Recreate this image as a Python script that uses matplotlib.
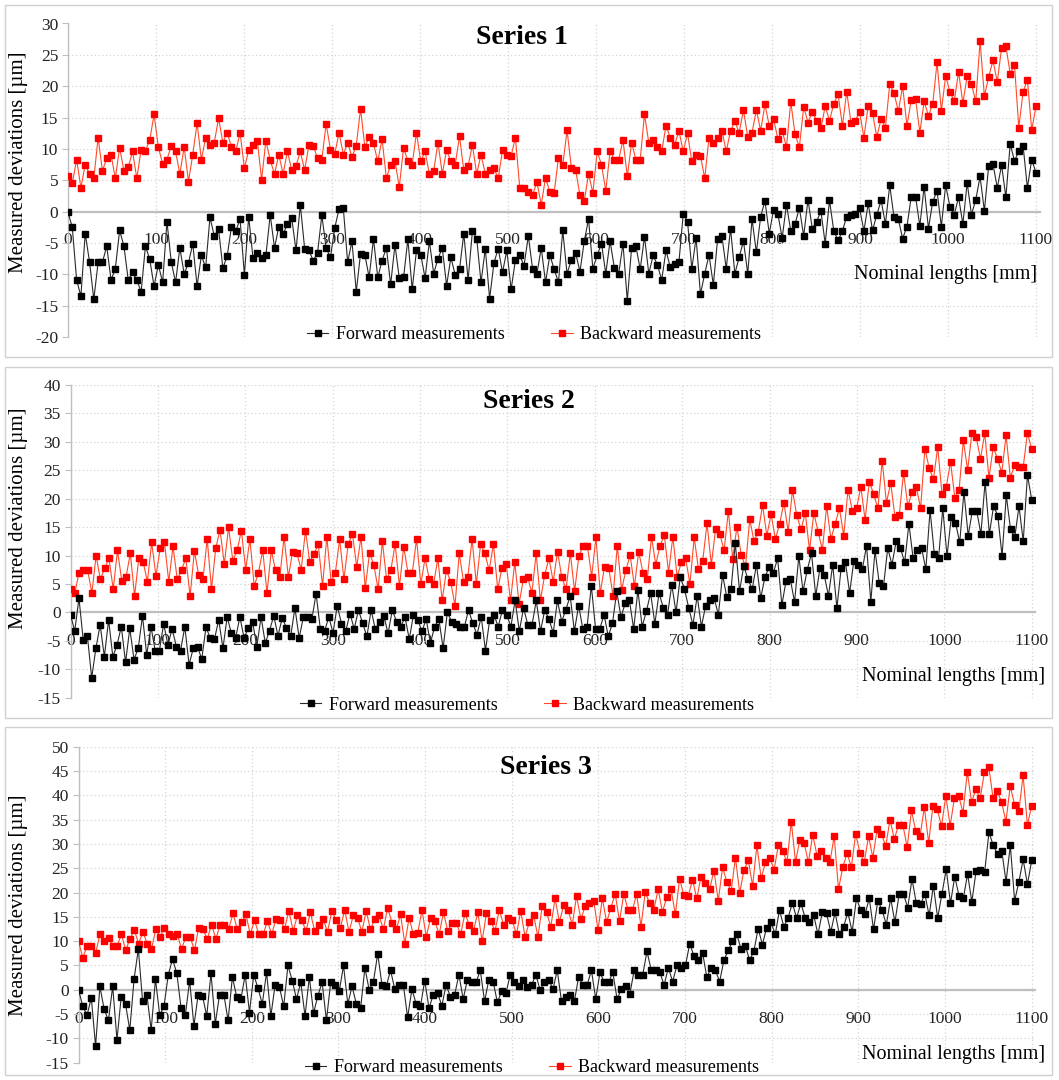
import numpy as np
import matplotlib
matplotlib.use("Agg")
import matplotlib.pyplot as plt
from matplotlib.patches import Rectangle
from matplotlib.lines import Line2D

plt.rcParams['font.family'] = ['Liberation Serif', 'DejaVu Serif']
plt.rcParams['axes.unicode_minus'] = False

# ---------------- data (deviations in micrometres) -------------
s1_forward = [
    -0.1, -2.5, -10.9, -13.5, -3.5, -8.0, -14.0, -8.1, -8.1, -5.5,
    -10.9, -9.1, -3.0, -5.5, -10.9, -9.7, -10.9, -12.8, -5.5, -7.6,
    -11.9, -8.5, -11.3, -1.6, -8.0, -11.3, -5.8, -9.9, -8.2, -5.1,
    -11.9, -7.0, -8.9, -0.9, -3.9, -2.8, -9.0, -7.1, -2.4, -3.1,
    -1.2, -10.1, -0.8, -7.4, -6.6, -7.4, -7.0, -0.5, -5.8, -2.4,
    -3.6, -2.0, -1.0, -6.2,
    1.1, -5.9, -6.2, -7.8, -6.6, -0.6, -5.8, -7.3, -2.6, 0.4,
    0.5, -8.1, -4.7, -12.8, -6.7, -6.9, -10.5, -4.3, -10.5, -7.8,
    -5.8, -11.6, -5.3, -10.6, -10.5, -4.4, -12.4, -6.2, -6.9, -10.6,
    -4.7, -9.9, -7.5, -5.8, -11.8, -7.3, -10.1, -9.2, -3.5, -10.9,
    -3.1, -4.3, -11.3, -5.9, -13.9, -8.2, -5.9, -9.7, -6.2, -12.4,
    -7.7, -7.0, -8.6, -3.9, -9.2, -9.9, -5.8, -11.3, -6.9,
    -9.2, -11.3, -3.0, -9.9, -7.7, -6.6, -9.6, -4.7, -1.2, -9.1,
    -7.0, -5.1, -9.9, -4.7, -9.0, -9.9, -5.1, -14.2, -5.8, -5.5,
    -9.2, -4.0, -9.9, -7.0, -8.5, -10.9, -6.2, -8.9, -8.3, -8.1,
    -0.4, -1.6, -9.1, -4.2, -13.2, -9.9, -6.9, -11.7, -4.3, -3.9,
    -9.1, -2.7, -9.9, -7.3, -4.7, -9.9, -1.2, -6.5, -0.8, 1.7,
    -3.5, 0.3, -0.4, -4.2, 1.1, -3.1, -2.0, 0.6, -3.9, 1.9,
    -2.7, -1.6, 0.1, -5.1, 1.8, -3.1, -4.6, -3.1, -0.8, -0.5,
    -0.4, 0.5, -3.1, 1.3, -3.0, -0.5, 1.8, -2.0, 4.2, -0.9,
    -1.2, -4.3, -2.4, 2.4, 2.4, -2.3, 4.0, -2.7, 1.6, 3.3,
    -2.4, 4.2, 0.8, -0.5, 2.3, -2.0, 4.6, -0.5, 1.9, 5.6,
    0.1, 7.3, 7.6, 3.8, 7.4, 2.3, 10.8, 8.1, 9.6, 10.5,
    3.8, 8.3, 6.2,
]
s1_backward = [
    5.6, 4.5, 8.3, 3.8, 7.5, 6.0, 5.3, 11.8, 6.5, 8.5,
    9.1, 5.3, 10.2, 6.5, 7.1, 9.6, 5.3, 9.9, 9.7, 11.4,
    15.5, 10.3, 7.6, 8.3, 10.5, 9.6, 6.0, 10.3, 4.8, 9.1,
    14.1, 8.3, 11.8, 10.6, 11.0, 14.9, 11.0, 12.6, 10.3, 9.6,
    12.6, 6.9, 9.8, 10.6, 11.3, 5.1, 11.3, 8.2, 6.0, 9.1,
    6.0, 9.6, 6.6, 7.3, 9.6, 6.6, 10.6,
    10.5, 8.5, 8.3, 14.0, 9.9, 9.2, 12.6, 9.1, 11.0, 8.7,
    10.5, 16.4, 10.3, 11.9, 10.9, 8.0, 11.6, 5.3, 7.5, 8.1,
    3.9, 10.2, 8.0, 7.5, 12.6, 8.0, 9.6, 6.0, 6.5, 11.0,
    6.0, 9.8, 8.0, 7.5, 12.0, 6.6, 7.3, 10.6, 6.0, 9.1,
    6.0, 6.6, 6.9, 5.3, 9.8, 9.1, 8.9, 11.8, 3.8, 3.7,
    3.1, 2.7, 4.7, 1.1, 5.4, 3.1, 3.0, 8.6, 7.4, 13.0,
    7.0, 6.6, 2.6, 1.7, 6.0, 3.0, 9.6, 7.5, 3.3, 9.6,
    8.3, 8.3, 11.4, 5.6, 11.0, 8.3, 8.3, 15.5, 11.0, 11.4,
    10.3, 9.6, 13.7, 11.8, 10.6, 12.9, 9.6, 12.5, 8.0, 9.0,
    8.9, 5.3, 11.8, 11.0, 11.8, 12.9, 9.6, 12.9, 14.4, 12.6,
    16.2, 11.9, 12.6, 16.2, 12.9, 17.1, 13.7, 14.8, 11.6, 12.9,
    10.3, 17.5, 12.3, 10.3, 16.7, 14.2, 15.9,
    14.5, 13.3, 16.8, 14.5, 17.2, 18.7, 13.7, 19.1, 14.2, 14.5,
    15.9, 11.8, 16.9, 15.7, 11.9, 14.8, 13.4, 20.3, 18.9, 16.0,
    20.0, 13.7, 17.8, 18.0, 12.6, 17.6, 15.3, 17.2, 23.8, 16.1,
    21.6, 19.1, 17.6, 22.3, 17.3, 21.6, 20.3, 17.6, 27.2, 18.4,
    21.5, 24.1, 20.7, 26.1, 26.4, 22.0, 23.4, 13.4, 19.1, 21.0,
    13.0, 16.8,
]
s2_forward = [
    -0.4, -3.3, 2.5, -4.8, -4.2, -11.5, -6.3, -2.2, -7.8, -1.3,
    -7.8, -5.7, -2.5, -8.8, -2.8, -8.3, -6.3, -0.6, -7.5, -2.5,
    -6.7, -6.7, -2.0, -5.7, -2.9, -6.0, -6.7, -2.5, -9.2, -6.3,
    -6.1, -8.2, -2.6, -4.5, -4.7, -1.3, -6.3, -0.8, -3.7, -4.5,
    -0.8, -4.5, -2.7, -1.7, -6.0, -0.8, -5.4, -3.2, -0.6, -4.1,
    -1.0, -2.7, -4.2, 0.8, -4.5, -0.8, -0.8, -1.2, 3.3,
    -2.9, -3.3, -0.8, -3.6, 1.2, -2.0, -3.3, -0.2, -2.9, 0.4,
    -1.9, -4.2, 0.4, -3.0, -1.6, -0.6, -3.7, 0.4, -1.6, -2.5,
    -0.8, -4.7, -0.4, -1.3, -3.3, -1.2, -5.4, -2.5, -1.2, -6.3,
    0.0, -1.6, -2.0, -2.6, -2.6, 0.4, -1.9, -3.9, -0.8, -6.7,
    -1.3, -0.4, -2.5, 0.4, -0.4, -2.5, 2.1, -3.3, 0.8, -2.2,
    -2.2, 2.1, -3.3, 0.4, -1.2, -3.6,
    2.1, -1.6, 0.5, 2.9, -3.3, 1.2, -2.9, -2.5, 4.7, -2.9,
    -2.9, -0.4, -4.2, -1.9, 3.7, -0.8, 1.6, 2.1, -2.9, 3.9,
    -2.5, 0.2, 3.4, -2.0, 3.4, 0.8, -0.4, 4.9, 0.0, 6.2,
    4.1, 0.8, -2.2, 2.9, -2.5, 1.2, 2.2, 2.5, -0.4, 6.6,
    2.7, 4.1, 12.2, 3.7, 8.2, 5.8, 4.1, 8.4, 2.5, 6.2,
    8.0, 7.0, 9.5, 1.3, 5.6, 5.8, 1.8, 9.9, 3.7,
    7.5, 10.4, 2.9, 7.8, 6.6, 2.9, 8.4, 0.8, 7.8, 8.9,
    3.4, 9.1, 8.4, 7.6, 11.7, 1.9, 10.9, 5.1, 4.6, 11.3,
    8.4, 12.5, 11.3, 8.8, 15.6, 9.5, 10.9, 11.3, 7.6, 18.0,
    10.3, 9.5, 18.3, 9.9, 16.7, 15.8, 12.3, 21.2, 13.5, 17.9,
    17.9, 13.8, 23.0, 13.8, 18.7, 17.0, 9.9, 20.6, 14.6, 13.2,
    18.7, 12.5, 24.2, 19.8,
]
s2_backward = [
    4.1, 3.4, 7.0, 7.4, 7.5, 3.4, 10.0, 5.8, 7.8, 9.5,
    4.1, 10.9, 5.6, 6.2, 10.4, 2.9, 9.6, 8.9, 5.4, 12.3,
    6.4, 11.3, 12.3, 5.4, 11.6, 5.8, 7.5, 9.5, 2.9, 10.8,
    6.6, 5.8, 12.9, 4.1, 11.3, 14.5, 8.5, 15.0, 9.1, 10.9,
    14.4, 7.5, 12.9, 4.6, 7.0, 10.9, 3.4, 10.9, 7.4, 6.2,
    13.3, 6.2, 10.7, 10.4, 7.5, 14.4, 8.9, 10.3,
    12.0, 4.6, 13.3, 5.4, 7.0, 12.9, 5.8, 12.0, 13.8, 8.0,
    13.3, 4.3, 10.4, 8.4, 4.1, 12.5, 5.8, 7.5, 12.0, 4.6,
    11.5, 7.0, 6.9, 12.9, 5.0, 9.5, 5.8, 5.0, 9.5, 2.1,
    7.4, 5.4, 1.2, 10.4, 5.4, 6.2, 12.9, 5.0, 12.0, 10.4,
    7.4, 12.0, 4.1, 7.8, 8.5, 2.1, 8.8, 1.5, 5.8, 6.2,
    3.4, 10.4, 2.1, 6.6, 9.5, 5.4,
    10.7, 6.2, 4.1, 10.4, 3.7, 9.9, 11.7, 11.7, 6.3, 13.2,
    3.4, 8.0, 7.8, 2.9, 11.7, 4.0, 7.4, 10.1, 4.6, 10.7,
    7.0, 5.8, 13.3, 8.4, 11.7, 13.6, 7.0, 13.3, 6.3, 8.8,
    9.5, 5.0, 13.2, 7.6, 9.1, 15.7, 8.4, 14.6, 13.8, 10.9,
    17.9, 9.4, 15.1, 10.1, 8.1, 16.4, 12.5, 14.2, 18.9, 13.5,
    17.3, 12.9, 15.6, 19.3, 14.2, 21.5, 17.1,
    14.6, 17.5, 10.9, 17.5, 14.2, 11.0, 18.7, 12.9, 15.6, 18.3,
    13.5, 21.6, 17.9, 18.3, 22.1, 16.3, 23.0, 20.8, 18.3, 26.7,
    19.3, 22.8, 16.7, 17.1, 24.6, 18.7, 21.2, 22.0, 18.3, 28.8,
    25.4, 23.4, 29.1, 20.8, 22.1, 26.5, 20.2, 21.5, 30.3, 25.0,
    31.6, 30.9, 27.0, 31.5, 23.7, 29.1, 27.0, 24.6, 31.2, 23.7,
    25.9, 25.5, 25.5, 31.6, 28.7,
]
s3_forward = [
    0.0, -3.4, -5.2, -1.7, -11.6, 0.7, -4.0, -6.3, 0.7, -10.3,
    -1.4, -2.9, -8.3, 2.2, 8.4, -2.4, -1.0, -8.3, 2.2, -5.2,
    -3.4, 3.1, 6.3, 3.4, -3.8, -5.2, 1.9, -7.4, -1.0, -1.2,
    -5.4, 3.4, -7.0, -1.0, -1.0, -6.3, 2.6, -1.4, -1.9, 3.1,
    -4.7, 3.1, 0.3, -2.9, 3.6, -5.4, 1.0, 0.6, -3.4, 5.0,
    1.9, -1.9, 1.5, -5.4, 2.6, -4.8,
    -1.2, 1.5, -6.3, 1.5, 1.0, -0.3, 5.0, -2.9, 0.7, -2.9,
    -3.8, 4.5, 0.0, 1.7, 7.4, 1.0, 0.7, 4.0, 0.1, 1.0,
    1.0, -5.7, 0.1, -2.9, -3.4, 1.9, -3.8, -1.0, -0.6, -3.3,
    1.0, -1.4, -1.0, 3.1, -1.9, 2.1, 1.5, 1.5, 4.0, -2.4,
    2.1, 1.7, -2.6, -0.3, -0.7, 3.1, 1.7, 0.7, 2.1, 0.6,
    1.0, 3.1, -0.1, 1.7, 2.1, 0.1, 4.0,
    -2.4, -1.4, -1.0, -2.4, 2.6, 1.0, 1.0, 4.0, -1.9, 3.6,
    1.5, 1.5, 3.6, -1.9, 0.1, 0.7, -0.8, 4.0, 3.1, 3.1,
    7.9, 4.0, 4.0, 3.6, 1.0, 4.5, 1.7, 5.0, 4.5, 5.0,
    9.5, 6.9, 6.1, 7.6, 2.6, 4.5, 4.0, 1.7, 6.1, 8.1,
    10.0, 11.4, 8.4, 9.1, 6.1, 7.9, 12.6, 9.3, 12.8, 13.9,
    11.4, 16.4, 13.0, 14.8, 17.8, 14.8, 17.8,
    14.8, 13.9, 15.3, 11.4, 15.9, 15.7, 11.9, 15.9, 11.4, 13.0,
    15.9, 11.9, 18.8, 16.4, 15.5, 18.8, 12.4, 18.3, 16.4, 13.4,
    18.8, 13.9, 19.7, 19.7, 16.9, 22.8, 17.8, 17.6, 19.7, 15.3,
    21.4, 14.8, 19.7, 24.8, 17.8, 23.3, 19.3, 18.8, 23.8, 18.1,
    24.5, 24.7, 24.3, 32.4, 29.7, 27.9, 28.6, 22.2, 29.7, 18.3,
    22.2, 26.8, 21.7, 26.6,
]
s3_backward = [
    10.0, 6.6, 9.0, 9.0, 7.6, 11.4, 10.0, 10.7, 9.0, 9.0,
    11.4, 8.1, 10.5, 12.3, 9.5, 11.9, 9.5, 8.4, 12.4, 10.9,
    12.8, 11.4, 11.0, 11.4, 8.4, 10.9, 10.9, 8.1, 12.8, 12.4,
    10.5, 13.4, 10.5, 13.4, 13.4, 12.6, 15.7, 12.4, 13.9, 15.5,
    11.4, 14.3, 11.4, 11.4, 14.1, 11.4, 14.6, 14.3, 12.6, 16.2,
    12.1, 15.3, 14.3, 12.1, 15.9,
    12.1, 13.4, 14.5, 11.9, 16.2, 14.3, 12.8, 16.4, 11.9, 15.3,
    14.8, 11.9, 16.2, 12.4, 14.5, 15.3, 12.4, 16.9, 13.8, 12.4,
    15.5, 9.5, 14.8, 11.4, 11.7, 16.4, 10.9, 14.8, 14.1, 11.4,
    15.9, 12.1, 13.8, 13.7, 11.4, 15.7, 13.4, 12.1, 15.9, 10.0,
    15.7, 14.1, 12.1, 16.4, 13.4, 14.8, 14.3, 11.4, 16.2, 10.9,
    13.9, 15.3, 10.9, 17.2, 15.9, 13.0,
    18.8, 13.9, 17.4, 16.4, 13.4, 19.3, 14.5, 17.2, 17.8, 18.3,
    12.3, 18.8, 13.9, 16.9, 19.7, 14.1, 19.7, 16.4, 16.4, 19.7,
    13.0, 20.1, 17.8, 16.4, 20.7, 16.0, 19.0, 20.7, 15.5, 22.8,
    19.4, 19.3, 22.6, 18.8, 23.3, 21.9, 20.7, 24.5, 18.3, 25.2,
    22.2, 20.3, 27.2, 19.9, 24.7, 26.6, 21.4, 29.7, 22.9, 26.2,
    27.2, 24.7, 29.7, 28.6, 26.2, 34.6, 26.3, 30.9,
    30.2, 26.2, 31.9, 27.6, 28.6, 27.2, 26.2, 31.6, 20.7, 25.2,
    28.1, 25.2, 32.1, 28.1, 26.2, 31.6, 27.2, 33.0, 32.1, 29.5,
    35.0, 31.0, 33.9, 33.9, 29.3, 36.9, 32.6, 31.6, 37.6, 30.2,
    37.9, 37.1, 33.7, 39.9, 33.7, 39.4, 39.9, 36.4, 44.8, 38.6,
    41.2, 39.4, 44.8, 45.9, 39.4, 40.8, 38.6, 34.6, 41.9, 38.1,
    36.7, 44.1, 33.9, 37.9,
]

x_ticks = [0, 100, 200, 300, 400, 500, 600, 700, 800, 900, 1000, 1100]
titles = ["Series 1", "Series 2", "Series 3"]
forward_sets = [s1_forward, s2_forward, s3_forward]
backward_sets = [s1_backward, s2_backward, s3_backward]
y_limits = [(-20, 30), (-15, 40), (-15, 50)]
legend_labels = ["Forward measurements", "Backward measurements"]
x_title = "Nominal lengths [mm]"
y_title = "Measured deviations [\u00b5m]"

# ---------------- layout (pixels of the 1059x1080 canvas) ----------------
W, H = 1059, 1080
fig = plt.figure(figsize=(W / 100, H / 100), dpi=100)


def fx(px):
    return px / W


def fy(py):
    return 1 - py / H


frames = [(5, 5, 1052, 357), (5, 367, 1052, 718), (5, 727, 1052, 1075)]
# x of 0 mm, x of 1100 mm, y of top, y of bottom
boxes = [(68, 1036, 23.5, 337), (70.5, 1031.7, 385, 697.7), (78.5, 1031.7, 746.7, 1062.7)]
title_pos = [(522, 37), (529, 402), (546, 768)]
xtitle_pos = [(1037, 275), (1045, 677), (1045, 1055)]
ytitle_pos = [(19, 162), (19, 518), (19, 905)]
legend_pos = [(534, 335), (527, 705), (532, 1068)]
XMAX = 1104

GRID = '#d4d4d4'
AXC = '#bfbfbf'

for i in range(3):
    f = frames[i]
    fig.add_artist(Rectangle((fx(f[0]), fy(f[3])), fx(f[2]) - fx(f[0]), fy(f[1]) - fy(f[3]),
                             transform=fig.transFigure, fill=False, ec='#d0d0d0', lw=1.0))
    x0, x1, yt, yb = boxes[i]
    x1e = x0 + (x1 - x0) * XMAX / 1100
    ax = fig.add_axes([fx(x0), fy(yb), fx(x1e) - fx(x0), fy(yt) - fy(yb)])
    lo, hi = y_limits[i]
    ax.set_xlim(0, XMAX)
    ax.set_ylim(lo, hi)
    ax.set_facecolor('none')
    ax.set_xticks(x_ticks)
    ax.set_yticks(np.arange(lo, hi + 1, 5))
    ax.grid(True, which='major', color=GRID, linestyle=(0, (1, 2)), lw=0.9)
    ax.set_axisbelow(True)
    for s in ('top', 'right'):
        ax.spines[s].set_visible(False)
    ax.spines['left'].set_color(AXC)
    ax.spines['left'].set_linewidth(1.0)
    ax.spines['bottom'].set_position(('data', 0))
    ax.spines['bottom'].set_color(AXC)
    ax.spines['bottom'].set_linewidth(1.6)
    ax.tick_params(axis='x', length=0, pad=15, labelsize=12.5, colors='#222222')
    ax.tick_params(axis='y', length=4, color=AXC, pad=3, labelsize=12.5, labelcolor='#222222')

    fw = forward_sets[i]
    bw = backward_sets[i]
    xf = np.linspace(0, 1100, len(fw))
    xb = np.linspace(0, 1100, len(bw))
    ax.plot(xb, bw, color='#ff4a2a', lw=0.8, marker='s', ms=4.2,
            mfc='#ff0000', mec='#ff0000', zorder=3)
    ax.plot(xf, fw, color='#2a2a2a', lw=0.8, marker='s', ms=4.2,
            mfc='#000000', mec='#000000', zorder=4)

    fig.text(fx(title_pos[i][0]), fy(title_pos[i][1]), titles[i], ha='center', va='center',
             fontsize=20, fontweight='bold')
    fig.text(fx(xtitle_pos[i][0]), fy(xtitle_pos[i][1]), x_title, ha='right', va='center',
             fontsize=14.5)
    fig.text(fx(ytitle_pos[i][0]), fy(ytitle_pos[i][1]), y_title, ha='center', va='center',
             rotation=90, fontsize=15)

    handles = [Line2D([], [], color='#2a2a2a', lw=0.8, marker='s', ms=4, mfc='k', mec='k'),
               Line2D([], [], color='#ff4a2a', lw=0.8, marker='s', ms=4, mfc='#ff0000', mec='#ff0000')]
    fig.legend(handles, legend_labels, loc='center',
               bbox_to_anchor=(fx(legend_pos[i][0]), fy(legend_pos[i][1])),
               ncol=2, frameon=False, fontsize=13, handlelength=1.2,
               handletextpad=0.4, columnspacing=2.6, borderpad=0.1)

fig.savefig('out.png', dpi=100)
